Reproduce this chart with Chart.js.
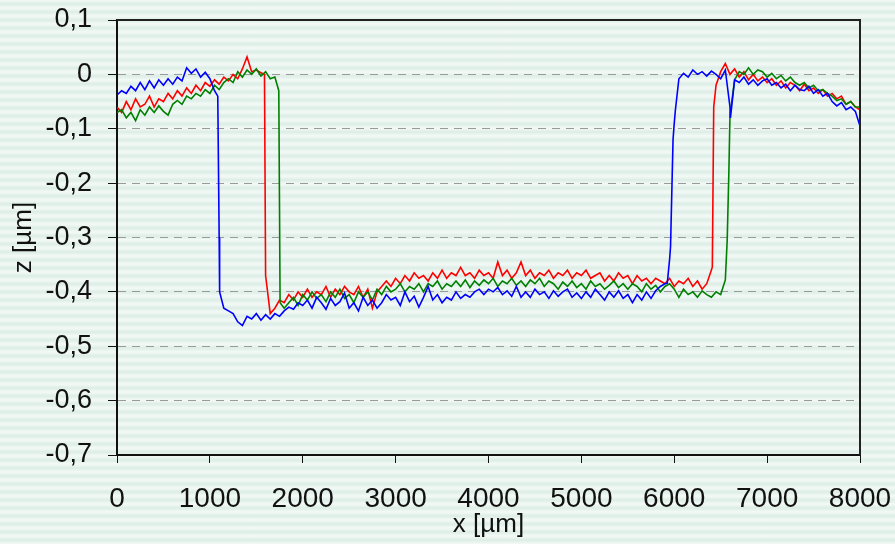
<!DOCTYPE html>
<html>
<head>
<meta charset="utf-8">
<script src="https://cdn.jsdelivr.net/npm/chart.js@4.4.0/dist/chart.umd.min.js"></script>
<style>
  html, body { margin: 0; padding: 0; }
  body {
    width: 895px; height: 544px; overflow: hidden;
    background: repeating-linear-gradient(to bottom, #f4faf7 0px, #dcede6 4px, #f4faf7 8px);
  }
  #wrap { position: relative; width: 895px; height: 544px; }
</style>
</head>
<body>
<div id="wrap"><canvas id="c" width="895" height="544"></canvas></div>
<script>
// sample positions along the profile, µm (every 50 µm)
const xGrid = Array.from({length: 161}, (_, i) => i * 50);

// profile heights, µm at each xGrid position
const blueZ = [
  -0.038,-0.03,-0.035,-0.022,-0.03,-0.015,-0.028,-0.012,-0.025,-0.01,
  -0.02,-0.008,-0.018,-0.005,-0.012,0.012,0.002,0.01,-0.005,0.004,
  -0.008,-0.03,-0.3,-0.43,-0.435,-0.44,-0.455,-0.462,-0.445,-0.45,
  -0.44,-0.452,-0.442,-0.45,-0.44,-0.445,-0.435,-0.428,-0.432,-0.42,
  -0.425,-0.415,-0.43,-0.41,-0.42,-0.432,-0.412,-0.425,-0.418,-0.402,
  -0.43,-0.42,-0.435,-0.41,-0.425,-0.415,-0.43,-0.42,-0.405,-0.415,
  -0.41,-0.425,-0.4,-0.418,-0.408,-0.428,-0.41,-0.39,-0.415,-0.405,
  -0.42,-0.41,-0.415,-0.4,-0.412,-0.405,-0.41,-0.4,-0.395,-0.405,
  -0.395,-0.4,-0.392,-0.405,-0.398,-0.408,-0.39,-0.41,-0.4,-0.41,
  -0.395,-0.405,-0.4,-0.412,-0.398,-0.408,-0.4,-0.395,-0.41,-0.402,
  -0.412,-0.4,-0.41,-0.395,-0.405,-0.415,-0.4,-0.41,-0.398,-0.412,
  -0.405,-0.42,-0.405,-0.415,-0.4,-0.412,-0.398,-0.39,-0.385,-0.34,
  -0.09,-0.008,0.002,-0.005,0.008,0.0,0.005,-0.003,0.006,0.0,
  -0.008,0.008,-0.06,-0.01,-0.015,-0.005,-0.018,-0.01,-0.02,-0.012,
  -0.008,-0.02,-0.015,-0.025,-0.018,-0.03,-0.02,-0.028,-0.03,-0.022,
  -0.035,-0.028,-0.04,-0.035,-0.05,-0.058,-0.052,-0.065,-0.06,-0.068,
  -0.095
];
const redZ = [
  -0.06,-0.07,-0.05,-0.065,-0.045,-0.06,-0.055,-0.04,-0.06,-0.045,
  -0.05,-0.035,-0.045,-0.03,-0.04,-0.025,-0.035,-0.02,-0.03,-0.015,
  -0.022,-0.01,-0.018,-0.005,-0.012,0.0,-0.008,0.01,0.032,0.005,
  0.008,0.003,-0.37,-0.44,-0.43,-0.415,-0.42,-0.405,-0.415,-0.4,
  -0.41,-0.395,-0.41,-0.4,-0.405,-0.39,-0.41,-0.395,-0.405,-0.39,
  -0.4,-0.405,-0.39,-0.41,-0.395,-0.43,-0.4,-0.39,-0.38,-0.39,
  -0.375,-0.385,-0.37,-0.38,-0.365,-0.375,-0.37,-0.38,-0.365,-0.375,
  -0.36,-0.375,-0.365,-0.37,-0.355,-0.37,-0.365,-0.375,-0.36,-0.37,
  -0.365,-0.375,-0.345,-0.37,-0.36,-0.375,-0.365,-0.345,-0.37,-0.36,
  -0.375,-0.365,-0.37,-0.36,-0.375,-0.365,-0.37,-0.36,-0.375,-0.365,
  -0.37,-0.36,-0.375,-0.37,-0.365,-0.38,-0.37,-0.38,-0.365,-0.375,
  -0.37,-0.385,-0.37,-0.38,-0.375,-0.385,-0.375,-0.38,-0.385,-0.375,
  -0.39,-0.38,-0.385,-0.375,-0.39,-0.38,-0.395,-0.385,-0.36,-0.02,
  0.005,0.02,0.0,0.01,-0.005,0.005,-0.01,0.0,-0.012,-0.005,
  -0.015,-0.008,-0.02,-0.012,-0.025,-0.015,-0.02,-0.03,-0.018,-0.03,
  -0.025,-0.035,-0.028,-0.04,-0.035,-0.045,-0.04,-0.055,-0.05,-0.06,
  -0.065
];
const greenZ = [
  -0.07,-0.065,-0.08,-0.07,-0.085,-0.065,-0.075,-0.06,-0.07,-0.058,
  -0.068,-0.075,-0.055,-0.048,-0.055,-0.04,-0.045,-0.035,-0.04,-0.028,
  -0.035,-0.02,-0.028,-0.015,-0.008,-0.015,0.005,-0.005,0.008,0.0,
  0.01,-0.003,0.005,-0.008,-0.005,-0.25,-0.43,-0.42,-0.41,-0.425,
  -0.405,-0.415,-0.4,-0.412,-0.405,-0.418,-0.4,-0.41,-0.395,-0.412,
  -0.405,-0.42,-0.4,-0.41,-0.4,-0.415,-0.395,-0.405,-0.39,-0.4,
  -0.395,-0.385,-0.4,-0.39,-0.395,-0.385,-0.4,-0.385,-0.39,-0.38,
  -0.395,-0.385,-0.39,-0.38,-0.39,-0.378,-0.392,-0.38,-0.388,-0.378,
  -0.385,-0.375,-0.39,-0.38,-0.385,-0.375,-0.388,-0.38,-0.39,-0.378,
  -0.385,-0.375,-0.39,-0.38,-0.385,-0.395,-0.382,-0.39,-0.38,-0.392,
  -0.385,-0.395,-0.38,-0.39,-0.385,-0.395,-0.388,-0.38,-0.392,-0.385,
  -0.395,-0.385,-0.39,-0.4,-0.385,-0.395,-0.388,-0.4,-0.39,-0.385,
  -0.395,-0.41,-0.395,-0.405,-0.4,-0.41,-0.398,-0.405,-0.41,-0.4,
  -0.405,-0.378,-0.075,-0.01,0.005,0.0,0.012,0.0,0.008,0.005,
  -0.005,0.002,-0.008,-0.002,-0.012,-0.005,-0.015,-0.02,-0.015,-0.025,
  -0.02,-0.03,-0.028,-0.035,-0.04,-0.048,-0.045,-0.055,-0.05,-0.06,
  -0.06
];

// extra points on the steep flanks, [x µm, z µm]
const blueEdges  = [[1085, -0.04], [1105, -0.40], [5925, -0.384], [5960, -0.317], [5987, -0.12], [6012, -0.066], [6605, -0.08]];
const redEdges   = [[1588, 0.0], [6410, -0.354], [6425, -0.06]];
const greenEdges = [[1742, -0.03], [1756, -0.42], [6570, -0.305], [6588, -0.18]];

const yTicks = [0.1, 0, -0.1, -0.2, -0.3, -0.4, -0.5, -0.6, -0.7];

function toPoints(zs, edges) {
  const pts = xGrid.map((x, i) => ({x, y: zs[i]}));
  edges.forEach(([x, y]) => pts.push({x, y}));
  return pts.sort((a, b) => a.x - b.x);
}

const family = '"Liberation Sans", Arial, sans-serif';

const frame = {
  id: 'frame',
  afterDraw(chart) {
    const {ctx, chartArea: a} = chart;
    ctx.save();
    ctx.strokeStyle = '#222';
    ctx.lineWidth = 2;
    ctx.beginPath();
    ctx.moveTo(a.left, a.top);
    ctx.lineTo(a.right, a.top);
    ctx.lineTo(a.right, a.bottom);
    ctx.stroke();
    ctx.restore();
  }
};

const line = (label, color, pts) => ({
  label, data: pts, borderColor: color, backgroundColor: color,
  borderWidth: 1.6, pointRadius: 0, showLine: true, tension: 0
});

new Chart(document.getElementById('c'), {
  type: 'scatter',
  data: {
    datasets: [
      line('blue', '#0000ff', toPoints(blueZ, blueEdges)),
      line('green', '#008000', toPoints(greenZ, greenEdges)),
      line('red', '#ff0000', toPoints(redZ, redEdges))
    ]
  },
  options: {
    responsive: false,
    animation: false,
    layout: {padding: {top: 20, right: 35, left: 0, bottom: 0}},
    plugins: {legend: {display: false}, tooltip: {enabled: false}},
    scales: {
      x: {
        type: 'linear', min: 0, max: 8000,
        afterFit: s => { s.height = 89; s.paddingLeft = 0; s.paddingRight = 0; },
        border: {color: '#111', width: 2},
        grid: {drawOnChartArea: false, drawTicks: true, tickLength: 8, tickColor: '#111', tickWidth: 1},
        ticks: {stepSize: 1000, color: '#111', font: {family, size: 28}, padding: 19, maxRotation: 0,
                callback: v => String(v)},
        title: {display: true, text: 'x [µm]', color: '#111', font: {family, size: 26}, padding: {top: 0, bottom: 4}}
      },
      y: {
        type: 'linear', min: -0.7, max: 0.1,
        afterFit: s => { s.width = 117; s.paddingTop = 0; s.paddingBottom = 0; },
        afterBuildTicks: s => { s.ticks = yTicks.map(v => ({value: v})); },
        border: {color: '#111', width: 2, dash: [8, 6]},
        grid: {color: '#9a9a9a', lineWidth: 1, tickLength: 9, tickColor: '#111', tickBorderDash: []},
        ticks: {
          color: '#111', font: {family, size: 27}, padding: 16,
          callback: v => String(Math.round(v * 10) / 10).replace('.', ',')
        },
        title: {display: true, text: 'z [µm]', color: '#111', font: {family, size: 26}, padding: {top: 8, bottom: 0}}
      }
    }
  },
  plugins: [frame]
});
</script>
</body>
</html>
